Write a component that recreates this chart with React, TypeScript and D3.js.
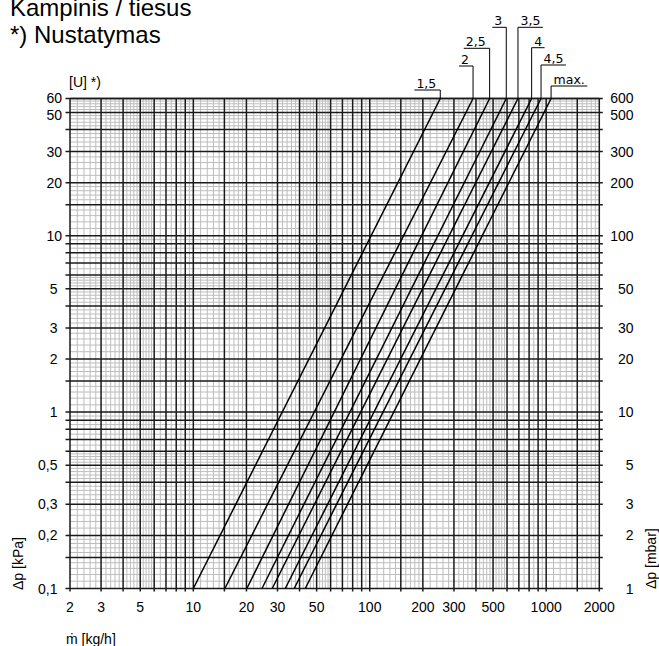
import React from "react";
import * as d3 from "d3";

// Settings (presetting values) and their straight characteristic lines in log-log
const settings = ["1,5", "2", "2,5", "3", "3,5", "4", "4,5", "max."];
// mass flow [kg/h] where each line meets Δp = 0.1 kPa (bottom) and Δp = 60 kPa (top)
const flowAtBottom = [10.0, 15.1, 20.1, 24.5, 28.0, 33.2, 37.3, 43.1];
const flowAtTop = [251, 385, 478, 594, 692, 827, 935, 1066];
const dpBottom = 0.1;
const dpTop = 60;

const xTickLabels = [2, 3, 5, 10, 20, 30, 50, 100, 200, 300, 500, 1000, 2000];
const yLeftLabels = [60, 50, 30, 20, 10, 5, 3, 2, 1, 0.5, 0.3, 0.2, 0.1];
const yRightLabels = [600, 500, 300, 200, 100, 50, 30, 20, 10, 5, 3, 2, 1];

const majorMantissas = [1, 1.5, 2, 3, 4, 5, 6, 7, 8, 9];
const minorMantissas = [
  1.1, 1.2, 1.3, 1.4, 1.6, 1.7, 1.8, 1.9, 2.2, 2.4, 2.6, 2.8, 3.2, 3.4, 3.6, 3.8,
  4.2, 4.4, 4.6, 4.8, 5.2, 5.4, 5.6, 5.8, 6.5, 7.5, 8.5, 9.5,
];

// label layout: underline height and side of leader
const labelLineY = [90, 66, 48.3, 27.3, 27.3, 47.7, 65, 86];
const labelSide = ["l", "l", "l", "l", "r", "r", "r", "r"];

const W = 659;
const H = 646;
const X0 = 70;
const X1 = 599.3;
const Y0 = 588.5;
const Y1 = 98.5;

const fmt = (v: number) => String(v).replace(".", ",");

const charW: Record<string, number> = { ",": 0.318, ".": 0.318, m: 0.974, a: 0.613, x: 0.592 };
const textW = (s: string, fs: number) =>
  s.split("").reduce((acc, c) => acc + (charW[c] ?? 0.636), 0) * fs;

function gridValues(decades: number[], mant: number[], lo: number, hi: number) {
  const out: number[] = [];
  decades.forEach((d) =>
    mant.forEach((m) => {
      const v = +(m * d).toPrecision(6);
      if (v >= lo - 1e-9 && v <= hi + 1e-9) out.push(v);
    })
  );
  return out;
}

// small vertical nudge for the crowded top labels
const nudge = (kpa: number) => (kpa === 60 ? -1 : kpa === 50 ? 2.5 : 0);

export default function App() {
  const x = d3.scaleLog().domain([2, 2000]).range([X0, X1]);
  const y = d3.scaleLog().domain([dpBottom, dpTop]).range([Y0, Y1]);

  const xDec = [1, 10, 100, 1000];
  const yDec = [0.1, 1, 10];
  const xMajor = gridValues(xDec, majorMantissas, 2, 2000);
  const xMinor = gridValues(xDec, minorMantissas, 2, 2000);
  const yMajor = gridValues(yDec, majorMantissas, 0.1, 60);
  const yMinor = gridValues(yDec, minorMantissas, 0.1, 60);

  const line = d3
    .line<[number, number]>()
    .x((d) => x(d[0]))
    .y((d) => y(d[1]));

  const font = "'Liberation Sans', Arial, sans-serif";
  const labelFont = "'DejaVu Sans', Verdana, sans-serif";
  const lfs = 12.5;

  return (
    <svg
      width={W}
      height={H}
      style={{ position: "absolute", left: 0, top: 0, background: "#fff" }}
      fontFamily={font}
    >
      <rect x={0} y={0} width={W} height={H} fill="#fff" />
      {/* titles */}
      <text x={10} y={16} fontSize={24} fill="#000">Kampinis / tiesus</text>
      <text x={10} y={43.3} fontSize={24} fill="#000">*) Nustatymas</text>
      <text x={69} y={87} fontSize={14} fill="#000">[U] *)</text>

      {/* minor grid */}
      <g stroke="#bdbdbd" strokeWidth={1}>
        {xMinor.map((v) => (
          <line key={"xm" + v} x1={x(v)} x2={x(v)} y1={Y1} y2={Y0} />
        ))}
        {yMinor.map((v) => (
          <line key={"ym" + v} x1={X0} x2={X1} y1={y(v)} y2={y(v)} />
        ))}
      </g>
      {/* major grid + ticks */}
      <g stroke="#1a1a1a" strokeWidth={1.5}>
        {xMajor.map((v) => (
          <line key={"xM" + v} x1={x(v)} x2={x(v)} y1={Y1} y2={Y0 + 3} />
        ))}
        {yMajor.map((v) => (
          <line key={"yM" + v} x1={X0 - 4.5} x2={X1 + 3.5} y1={y(v)} y2={y(v)} />
        ))}
        <line x1={X0} x2={X1} y1={Y1} y2={Y1} />
      </g>

      {/* characteristic lines */}
      <g stroke="#000" strokeWidth={1.5} fill="none">
        {settings.map((s, i) => (
          <path
            key={"c" + s}
            d={line([
              [flowAtBottom[i], dpBottom],
              [flowAtTop[i], dpTop],
            ]) || ""}
          />
        ))}
      </g>

      {/* setting labels with leaders */}
      <g fontFamily={labelFont} fontSize={lfs} fill="#000">
        {settings.map((s, i) => {
          const vx = x(flowAtTop[i]);
          const ly = labelLineY[i];
          const w = textW(s, lfs);
          const left = labelSide[i] === "l";
          const ux1 = left ? vx - w - 6 : vx;
          const ux2 = left ? vx : vx + w + 5;
          return (
            <g key={"l" + s}>
              <line x1={ux1} x2={ux2} y1={ly} y2={ly} stroke="#000" strokeWidth={1} />
              <line x1={vx} x2={vx} y1={ly} y2={Y1} stroke="#000" strokeWidth={1} />
              <text x={left ? vx - 4 : vx + 2.5} y={ly - 2} textAnchor={left ? "end" : "start"}>
                {s}
              </text>
            </g>
          );
        })}
      </g>

      {/* tick labels */}
      <g fontSize={14} fill="#000">
        {xTickLabels.map((v) => (
          <text key={"xt" + v} x={x(v)} y={611.5} textAnchor="middle">
            {v}
          </text>
        ))}
        {yLeftLabels.map((v) => (
          <text
            key={"yl" + v}
            x={v >= 10 ? 62 : 57.5}
            y={y(v) + nudge(v)}
            dy="0.36em"
            textAnchor="end"
          >
            {fmt(v)}
          </text>
        ))}
        {yRightLabels.map((v) => (
          <text
            key={"yr" + v}
            x={633.5}
            y={y(v / 10) + nudge(v / 10)}
            dy="0.36em"
            textAnchor="end"
          >
            {v}
          </text>
        ))}
      </g>

      {/* axis titles */}
      <text x={66} y={644} fontSize={14} fill="#000">ṁ [kg/h]</text>
      <text transform="translate(23,590) rotate(-90)" fontSize={14} fill="#000">Δp [kPa]</text>
      <text transform="translate(656,589) rotate(-90)" fontSize={14} fill="#000">Δp [mbar]</text>
    </svg>
  );
}
